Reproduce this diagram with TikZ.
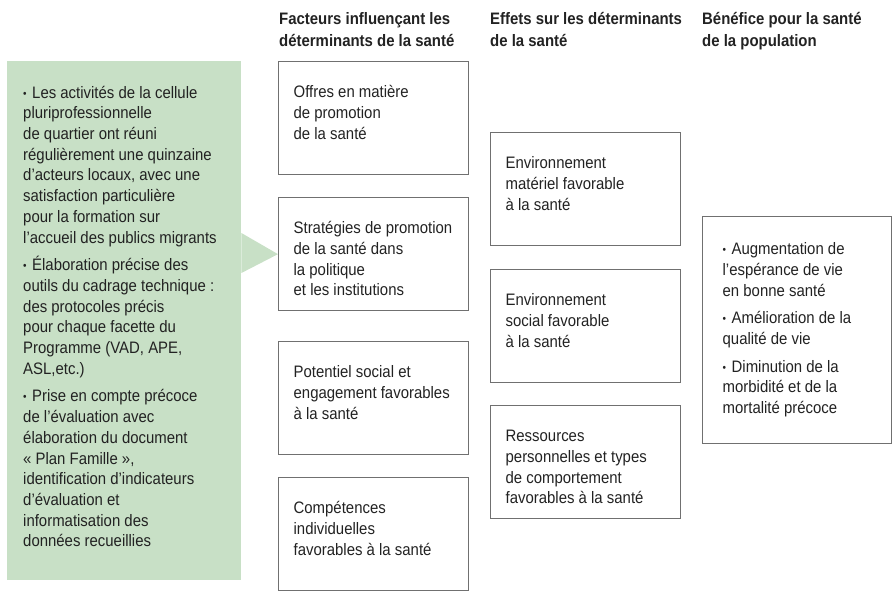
\documentclass[tikz,border=0pt]{standalone}
\usepackage{fontspec}
\setmainfont{Liberation Sans}[FakeStretch=0.9]
\usepackage{tikz}

\definecolor{vert}{HTML}{C8E0C6}
\definecolor{cadre}{HTML}{707070}
\definecolor{encre}{HTML}{222222}

\newcommand{\boite}[2]{\parbox[c][#1][t]{160pt}{\raggedright\rule{0pt}{36pt}#2}}
\newcommand{\puce}{\makebox[9pt][l]{\raisebox{1pt}{\fontsize{11}{11}\selectfont •}}}
\newcommand{\entree}[1]{\par\hangindent=9pt\hangafter=1\noindent\puce#1\par}
\newcommand{\ecart}{\vspace{7pt}}

\tikzset{
	fbox/.style={draw=cadre, line width=1.3pt, anchor=north west, inner xsep=15pt, inner ysep=0pt},
	titre/.style={anchor=base west, inner sep=0pt, font=\bfseries},
}

\begin{document}
\begin{tikzpicture}[x=1pt, y=1pt, >=latex, every node/.style={text=encre}]
			\fontsize{16.6}{20.7}\selectfont
			\useasboundingbox (0,0) rectangle (892,-593);
			%%%	Help Lines
%			\draw [thin, help lines, step=50] (0,0) grid (892,-593);
			%%%	Titres
			\node[titre] (t1) at (279,-25) {\parbox[t]{200pt}{\baselineskip=21.5pt Facteurs influençant les\\déterminants de la santé}};
			\node[titre] (t2) at (490,-25) {\parbox[t]{200pt}{\baselineskip=21.5pt Effets sur les déterminants\\de la santé}};
			\node[titre] (t3) at (702,-25) {\parbox[t]{200pt}{\baselineskip=21.5pt Bénéfice pour la santé\\de la population}};
			%%%	Facteurs
			\node[fbox] (f1) at (278,-61) {\boite{113pt}{Offres en matière\\de promotion\\de la santé}};
			\node[fbox] (f2) at (278,-197) {\boite{113pt}{Stratégies de promotion\\de la santé dans\\la politique\\et les institutions}};
			\node[fbox] (f3) at (278,-341) {\boite{113pt}{Potentiel social et\\engagement favorables\\à la santé}};
			\node[fbox] (f4) at (278,-477) {\boite{113pt}{Compétences\\individuelles\\favorables à la santé}};
			%%%	Effets
			\node[fbox] (e1) at (490,-132) {\boite{113pt}{Environnement\\matériel favorable\\à la santé}};
			\node[fbox] (e2) at (490,-269) {\boite{113pt}{Environnement\\social favorable\\à la santé}};
			\node[fbox] (e3) at (490,-405) {\boite{113pt}{Ressources\\personnelles et types\\de comportement\\favorables à la santé}};
			%%%	Benefice
			\node[fbox, inner xsep=10pt] (b1) at (702,-216) {\parbox[c][227pt][t]{169pt}{\raggedright\leftskip=10pt
				\entree{\rule{0pt}{38pt}Augmentation de\\l’espérance de vie\\en bonne santé}\ecart
				\entree{Amélioration de la\\qualité de vie}\ecart
				\entree{Diminution de la\\morbidité et de la\\mortalité précoce}}};
			%%%	Actions
			\node[anchor=north west, fill=vert, inner xsep=8pt, inner ysep=0pt] (act) at (7,-61) {\parbox[c][519pt][t]{218pt}{\raggedright\leftskip=8pt
				\entree{\rule{0pt}{37pt}Les activités de la cellule\\pluriprofessionnelle\\de quartier ont réuni\\régulièrement une quinzaine\\d’acteurs locaux, avec une\\satisfaction particulière\\pour la formation sur\\l’accueil des publics migrants}\ecart
				\entree{Élaboration précise des\\outils du cadrage technique :\\des protocoles précis\\pour chaque facette du\\Programme (VAD, APE,\\ASL,etc.)}\ecart
				\entree{Prise en compte précoce\\de l’évaluation avec\\élaboration du document\\« Plan Famille »,\\identification d’indicateurs\\d’évaluation et\\informatisation des\\données recueillies}}};
			\fill[vert] ([yshift=-172pt]act.north east) -- (f2.west) -- ([yshift=-212pt]act.north east) -- cycle;
		\end{tikzpicture}
\end{document}
